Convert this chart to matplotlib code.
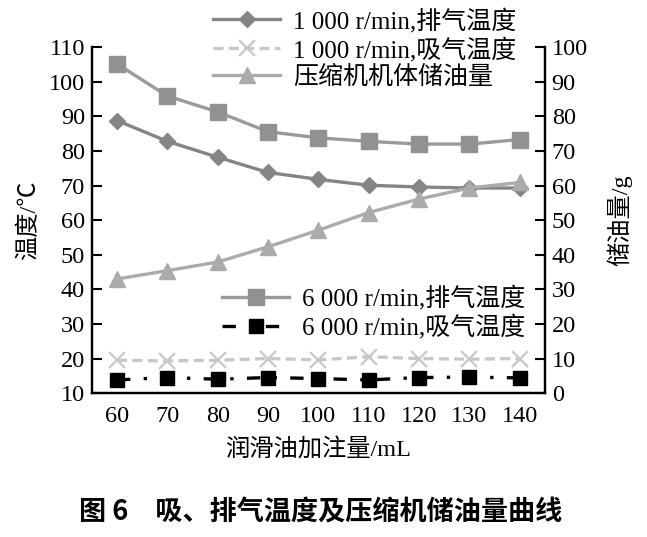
import matplotlib.pyplot as plt

# 润滑油加注量 / mL
oil_ml = [60, 70, 80, 90, 100, 110, 120, 130, 140]

# 温度 / ℃
t_dis_1000 = [88.8, 82.8, 78.2, 73.8, 71.8, 70.1, 69.6, 69.3, 69.3]
t_suc_1000 = [19.5, 19.3, 19.5, 20.0, 19.6, 20.5, 20.0, 19.8, 20.0]
t_dis_6000 = [105.2, 95.9, 91.3, 85.6, 83.8, 82.8, 82.0, 82.0, 83.3]
t_suc_6000 = [13.8, 14.5, 14.0, 14.5, 14.2, 13.8, 14.5, 14.6, 14.4]

# 压缩机机体储油量 / g
oil_g = [33.0, 35.4, 37.9, 42.3, 47.1, 52.2, 56.1, 59.3, 60.9]

x_ticks = oil_ml
left_ticks = list(range(10, 111, 10))
right_ticks = list(range(0, 101, 10))

serif = ['Liberation Serif', 'Noto Sans CJK SC', 'DejaVu Sans']
plt.rcParams['font.family'] = serif
plt.rcParams['axes.unicode_minus'] = False

fig = plt.figure(figsize=(6.47, 5.37), dpi=100)
ax = fig.add_axes([0.142, 0.268, 0.700, 0.644])
ax2 = ax.twinx()

l1, = ax.plot(oil_ml, t_dis_1000, color='#858585', lw=2.4, marker='D', ms=8,
              label='1 000 r/min,排气温度')
l2, = ax.plot(oil_ml, t_suc_1000, color='#c8c8c8', lw=2.4, ls=(0, (3, 1.6)),
              marker='x', ms=11, mew=1.6, label='1 000 r/min,吸气温度')
l4, = ax.plot(oil_ml, t_dis_6000, color='#9a9a9a', lw=2.4, marker='s', ms=11,
              mfc='#919191', mec='#919191', label='6 000 r/min,排气温度')
l5, = ax.plot(oil_ml, t_suc_6000, color='black', lw=2.4, ls=(0, (4, 4, 1, 4)),
              marker='s', ms=10, label='6 000 r/min,吸气温度')
l3, = ax2.plot(oil_ml, oil_g, color='#ababab', lw=2.4, marker='^', ms=11,
               label='压缩机机体储油量')

ax.set_xlim(55, 145)
ax.set_ylim(10, 110)
ax2.set_ylim(0, 100)
ax.set_xticks(x_ticks)
ax.set_yticks(left_ticks)
ax2.set_yticks(right_ticks)

ax.tick_params(axis='y', direction='in', length=7, width=1.5, labelsize=17.5, pad=5)
ax2.tick_params(axis='y', direction='in', length=7, width=1.5, labelsize=17.5, pad=5)
ax.tick_params(axis='x', length=0, labelsize=17.5, pad=9)
for a in (ax, ax2):
    for s in a.spines.values():
        s.set_linewidth(1.6)
    a.spines['top'].set_visible(False)

ax.set_xlabel('润滑油加注量/mL', fontsize=17.5, labelpad=8)
ax.set_ylabel('温度/℃', fontsize=17.5, labelpad=6)
ax2.set_ylabel('储油量/g', fontsize=17.5, rotation=90, labelpad=14)

leg_kw = dict(frameon=False, fontsize=18, handlelength=2.7, handletextpad=0.5,
              labelspacing=0.16, borderpad=0, borderaxespad=0)
leg1 = fig.legend(handles=[l1, l2, l3], loc='upper left',
                  bbox_to_anchor=(0.329, 0.985), **leg_kw)
leg2 = ax.legend(handles=[l4, l5], loc='upper left',
                 bbox_to_anchor=(0.343, 0.468), bbox_transform=fig.transFigure,
                 **leg_kw)

fig.text(0.496, 0.046, '图 6　吸、排气温度及压缩机储油量曲线', ha='center',
         va='center', fontsize=19.5, fontweight='bold',
         family=['Noto Sans CJK SC', 'DejaVu Sans'])

fig.savefig('out.png', dpi=100)
